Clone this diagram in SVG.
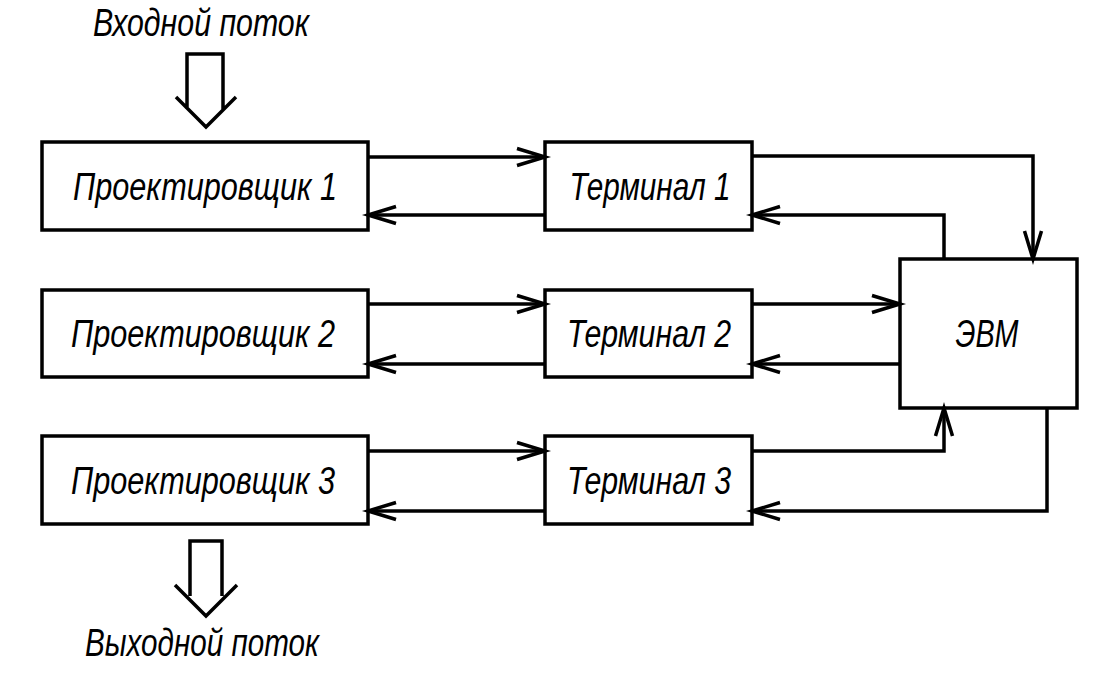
<svg xmlns="http://www.w3.org/2000/svg" width="1116" height="697" viewBox="0 0 1116 697">
<style>
.box{fill:#fff;stroke:#000;stroke-width:3.5}
.ln{fill:none;stroke:#000;stroke-width:3.5;stroke-linejoin:miter}
.t{font-family:"Liberation Sans Narrow","Liberation Sans",sans-serif;font-style:italic;font-size:38px;fill:#000;text-anchor:middle}
</style>
<defs>
<marker id="ah" markerUnits="userSpaceOnUse" markerWidth="34" markerHeight="22" refX="30" refY="10" orient="auto" overflow="visible">
<path d="M2,1.5 L30,10 L2,18.5" fill="none" stroke="#000" stroke-width="3.5"/>
</marker>
</defs>
<rect width="1116" height="697" fill="#fff"/>
<g id="in-flow">
<text class="t" x="201" y="36" textLength="216" lengthAdjust="spacingAndGlyphs">Входной поток</text>
<path class="ln" d="M187,109 V54 H223 V109 M176,97 L206,127 L236,97"/>
</g>
<g id="out-flow">
<path class="ln" d="M190,596 V541 H222 V596 M175,585 L206,616 L237,585"/>
<text class="t" x="202" y="656" textLength="234" lengthAdjust="spacingAndGlyphs">Выходной поток</text>
</g>
<g id="p1"><rect class="box" x="42" y="142" width="326" height="88"/><text class="t" x="205" y="200" textLength="264" lengthAdjust="spacingAndGlyphs">Проектировщик 1</text></g>
<g id="p2"><rect class="box" x="42" y="290" width="326" height="87"/><text class="t" x="203" y="347" textLength="264" lengthAdjust="spacingAndGlyphs">Проектировщик 2</text></g>
<g id="p3"><rect class="box" x="42" y="436" width="326" height="88"/><text class="t" x="203" y="494" textLength="264" lengthAdjust="spacingAndGlyphs">Проектировщик 3</text></g>
<g id="t1"><rect class="box" x="545" y="142" width="207" height="88"/><text class="t" x="650" y="200" textLength="161" lengthAdjust="spacingAndGlyphs">Терминал 1</text></g>
<g id="t2"><rect class="box" x="545" y="290" width="207" height="87"/><text class="t" x="649" y="347" textLength="164" lengthAdjust="spacingAndGlyphs">Терминал 2</text></g>
<g id="t3"><rect class="box" x="545" y="436" width="207" height="88"/><text class="t" x="649" y="494" textLength="164" lengthAdjust="spacingAndGlyphs">Терминал 3</text></g>
<g id="evm"><rect class="box" x="900" y="259" width="177" height="149"/><text class="t" x="987" y="347" textLength="63" lengthAdjust="spacingAndGlyphs">ЭВМ</text></g>
<g id="connectors">
<path class="ln" marker-end="url(#ah)" d="M368,157 H545"/>
<path class="ln" marker-end="url(#ah)" d="M545,215 H368"/>
<path class="ln" marker-end="url(#ah)" d="M368,304 H545"/>
<path class="ln" marker-end="url(#ah)" d="M545,364 H368"/>
<path class="ln" marker-end="url(#ah)" d="M368,451 H545"/>
<path class="ln" marker-end="url(#ah)" d="M545,511 H368"/>
<path class="ln" marker-end="url(#ah)" d="M752,156 H1033 V259"/>
<path class="ln" marker-end="url(#ah)" d="M944,259 V215 H752"/>
<path class="ln" marker-end="url(#ah)" d="M752,304 H900"/>
<path class="ln" marker-end="url(#ah)" d="M900,364 H752"/>
<path class="ln" marker-end="url(#ah)" d="M752,451 H944 V408"/>
<path class="ln" marker-end="url(#ah)" d="M1047,408 V511 H752"/>
</g>
</svg>
